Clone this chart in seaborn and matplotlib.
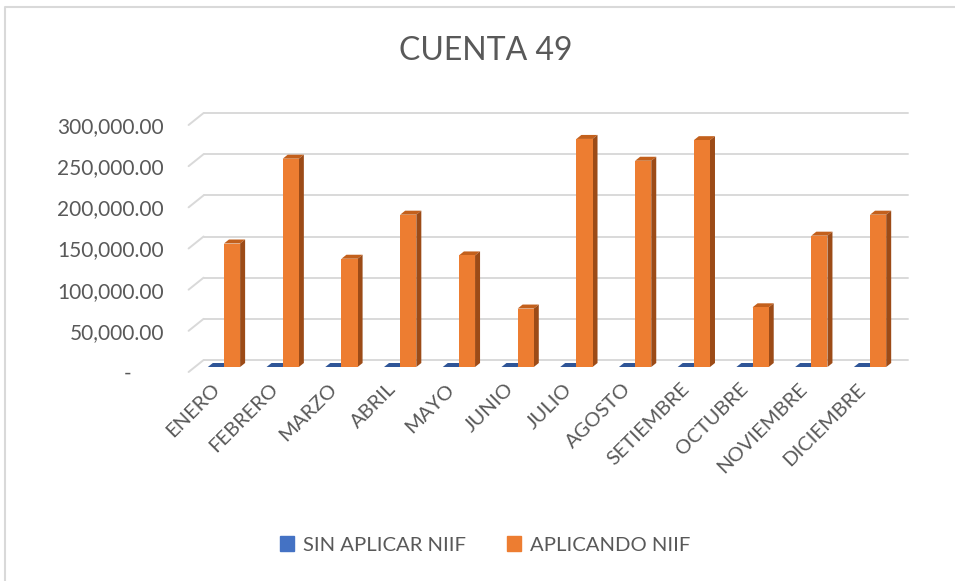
import numpy as np
import pandas as pd
import matplotlib
matplotlib.use('Agg')
import matplotlib.pyplot as plt
import matplotlib.transforms as mtrans
from matplotlib.patches import Polygon
from matplotlib.lines import Line2D
import seaborn as sns

MONTHS = ['ENERO', 'FEBRERO', 'MARZO', 'ABRIL', 'MAYO', 'JUNIO', 'JULIO',
          'AGOSTO', 'SETIEMBRE', 'OCTUBRE', 'NOVIEMBRE', 'DICIEMBRE']
SIN_NIIF = [0, 0, 0, 0, 0, 0, 0, 0, 0, 0, 0, 0]
CON_NIIF = [150000, 253000, 131500, 185000, 135500, 71000,
            277000, 250500, 275500, 72500, 159500, 185000]
SERIES = ['SIN APLICAR NIIF', 'APLICANDO NIIF']
Y_TICKS = [0, 50000, 100000, 150000, 200000, 250000, 300000]

FRONT = {'SIN APLICAR NIIF': '#4472C4', 'APLICANDO NIIF': '#ED7D31'}
TOP = {'SIN APLICAR NIIF': '#2F5597', 'APLICANDO NIIF': '#C3601C'}
SIDE = {'SIN APLICAR NIIF': '#2A4A86', 'APLICANDO NIIF': '#9C4B17'}
TEXT = '#595959'
GRID = '#D9D9D9'

sns.set_style('white')
plt.rcParams['font.family'] = ['Lato', 'DejaVu Sans']

df = pd.DataFrame({
    'mes': MONTHS * 2,
    'serie': [SERIES[0]] * len(MONTHS) + [SERIES[1]] * len(MONTHS),
    'valor': SIN_NIIF + CON_NIIF,
})

W, H = 955, 581
fig = plt.figure(figsize=(W / 100, H / 100), dpi=100)
ax = fig.add_axes([194.6 / W, (H - 367) / H, (899.4 - 194.6) / W, 247 / H])

sns.barplot(data=df, x='mes', y='valor', hue='serie', palette=FRONT,
            width=0.55, ax=ax, zorder=3, legend=False, saturation=1,
            linewidth=0)
ax.set_xlim(-0.5, len(MONTHS) - 0.5)
ax.set_ylim(0, 300000)
ax.set_yticks(Y_TICKS)
ax.set_xlabel('')
ax.set_ylabel('')
for s in ax.spines.values():
    s.set_visible(False)
ax.tick_params(axis='both', length=0, colors=TEXT)
ax.tick_params(axis='y', labelsize=15, pad=22)
ax.tick_params(axis='x', labelsize=14.5, pad=14)
ax.set_yticklabels(['-      ' if v == 0 else f'{v:,.2f}' for v in Y_TICKS])
plt.setp(ax.get_xticklabels(), rotation=45, ha='right', va='center',
         rotation_mode='anchor')

px = fig.dpi_scale_trans
for lab in ax.get_yticklabels():
    lab.set_transform(lab.get_transform() + mtrans.ScaledTranslation(0, -0.05, px))
for lab in ax.get_xticklabels():
    lab.set_transform(lab.get_transform() + mtrans.ScaledTranslation(-0.07, 0, px))

# back wall gridlines + left floor/wall slant
back = ax.transData + mtrans.ScaledTranslation(0.09, 0.07, px)
x0, x1 = ax.get_xlim()
for v in Y_TICKS:
    ax.plot([x0, x1], [v, v], color=GRID, lw=1.4, transform=back,
            clip_on=False, zorder=1)
    p = ax.transData.transform((x0, v))
    fig.add_artist(Line2D([p[0] - 6, p[0] + 9], [p[1] - 5, p[1] + 7],
                          color=GRID, lw=1.4, transform=None))

# fake 3D depth on each bar
dx, dy = 5, 4
bars = [b for c in ax.containers for b in c]
series_of = [s for s in SERIES for _ in MONTHS]
for bar, s in zip(bars, series_of):
    (xa, ya), (xb, yb) = ax.transData.transform(
        [(bar.get_x(), bar.get_y()), (bar.get_x() + bar.get_width(),
                                      bar.get_y() + bar.get_height())])
    top = [(xa, yb), (xb, yb), (xb + dx, yb + dy), (xa + dx, yb + dy)]
    side = [(xb, ya), (xb, yb), (xb + dx, yb + dy), (xb + dx, ya + dy)]
    ax.add_patch(Polygon(top, closed=True, color=TOP[s], transform=None,
                         zorder=2.5, clip_on=False, lw=0))
    ax.add_patch(Polygon(side, closed=True, color=SIDE[s], transform=None,
                         zorder=2.5, clip_on=False, lw=0))

fig.text(486 / W, 1 - 51 / H, 'CUENTA 49', ha='center', va='center',
         fontsize=23, color=TEXT)

handles = [plt.Rectangle((0, 0), 1, 1, color=FRONT[s]) for s in SERIES]
fig.legend(handles, SERIES, loc='center', bbox_to_anchor=(485 / W, 1 - 545 / H),
           ncol=2, frameon=False, fontsize=14.6, labelcolor=TEXT,
           handlelength=0.7, handleheight=0.7, handletextpad=0.45,
           columnspacing=2.0)

# chart frame (only top and left edges fall inside the picture)
fig.add_artist(Line2D([5, 5, W], [0, H - 7, H - 7], color=GRID, lw=1.5,
                      transform=None))

fig.savefig('out.png', dpi=100, facecolor='white')
